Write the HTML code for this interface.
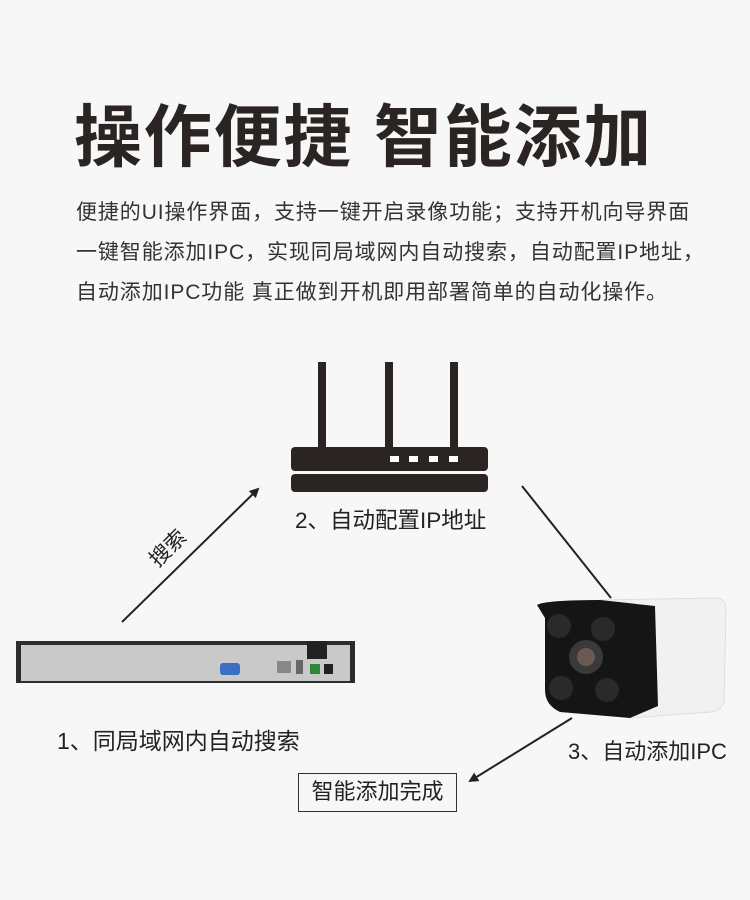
<!DOCTYPE html>
<html><head><meta charset="utf-8"><style>
body{margin:0;background:#f7f7f7;width:750px;height:900px;position:relative;overflow:hidden;font-family:"Liberation Sans","Noto Sans CJK SC",sans-serif;color:#2a2522}
.t{position:absolute;left:74px;top:82px;font-size:68px;font-weight:bold;letter-spacing:1.8px;white-space:nowrap}
.p{position:absolute;left:76px;font-size:21px;letter-spacing:0.9px;color:#333;white-space:nowrap}
.l{position:absolute;color:#222;white-space:nowrap}
</style></head><body>
<div class="t">操作便捷 智能添加</div>
<div class="p" style="top:196px">便捷的UI操作界面，支持一键开启录像功能；支持开机向导界面</div>
<div class="p" style="top:236px">一键智能添加IPC，实现同局域网内自动搜索，自动配置IP地址，</div>
<div class="p" style="top:276px">自动添加IPC功能 真正做到开机即用部署简单的自动化操作。</div>
<svg width="750" height="900" style="position:absolute;left:0;top:0">
<defs><marker id="a" markerWidth="10" markerHeight="10" refX="8" refY="5" orient="auto" markerUnits="userSpaceOnUse"><path d="M0,0 L10,5 L0,10 z" fill="#222"/></marker></defs>
<rect x="318" y="362" width="8" height="86" fill="#2a2522"/>
<rect x="385" y="362" width="8" height="86" fill="#2a2522"/>
<rect x="450" y="362" width="8" height="86" fill="#2a2522"/>
<rect x="291" y="447" width="197" height="24" rx="4" fill="#2a2522"/>
<rect x="291" y="474" width="197" height="18" rx="4" fill="#2a2522"/>
<rect x="390" y="456" width="9" height="6" fill="#fff"/><rect x="409" y="456" width="9" height="6" fill="#fff"/><rect x="429" y="456" width="9" height="6" fill="#fff"/><rect x="449" y="456" width="9" height="6" fill="#fff"/>
<line x1="122" y1="622" x2="258" y2="489" stroke="#222" stroke-width="2" marker-end="url(#a)"/>
<line x1="522" y1="486" x2="611" y2="598" stroke="#222" stroke-width="2"/>
<line x1="572" y1="718" x2="470" y2="781" stroke="#222" stroke-width="2" marker-end="url(#a)"/>
<text x="0" y="0" transform="translate(158,568) rotate(-45)" font-size="21" fill="#222" font-family="Liberation Sans,Noto Sans CJK SC,sans-serif">搜索</text>
<rect x="16" y="641" width="339" height="42" fill="#2c2c2c"/>
<rect x="21" y="645" width="329" height="36" fill="#c9c9c9"/>
<rect x="220" y="663" width="20" height="12" rx="3" fill="#3a6fc2"/>
<rect x="277" y="661" width="14" height="12" fill="#888"/>
<rect x="307" y="641" width="20" height="18" fill="#222"/>
<rect x="310" y="664" width="10" height="10" fill="#2a8a3a"/>
<rect x="324" y="664" width="9" height="10" fill="#222"/>
<rect x="296" y="660" width="7" height="14" fill="#666"/>
<path d="M600,600 L718,598 Q726,600 726,610 L724,702 Q720,712 710,712 L630,718 L600,700 z" fill="#f1f1f1" stroke="#ddd"/>
<path d="M537,605 Q545,600 600,600 L655,606 L658,706 L630,718 L560,712 Q545,705 545,690 L545,618 z" fill="#151515"/>
<circle cx="559" cy="626" r="12" fill="#2a2a2a"/><circle cx="603" cy="629" r="12" fill="#2a2a2a"/>
<circle cx="561" cy="688" r="12" fill="#2a2a2a"/><circle cx="607" cy="690" r="12" fill="#2a2a2a"/>
<circle cx="586" cy="657" r="17" fill="#3a3a3a"/><circle cx="586" cy="657" r="9" fill="#6a5a50"/>
</svg>
<div class="l" style="left:295px;top:503px;font-size:22.5px">2、自动配置IP地址</div>
<div class="l" style="left:57px;top:722px;font-size:23px">1、同局域网内自动搜索</div>
<div class="l" style="left:568px;top:734px;font-size:22px">3、自动添加IPC</div>
<div style="position:absolute;left:298px;top:773px;width:159px;height:39px;border:1.5px solid #333;box-sizing:border-box;font-size:22px;line-height:36px;text-align:center;color:#222">智能添加完成</div>
</body></html>
